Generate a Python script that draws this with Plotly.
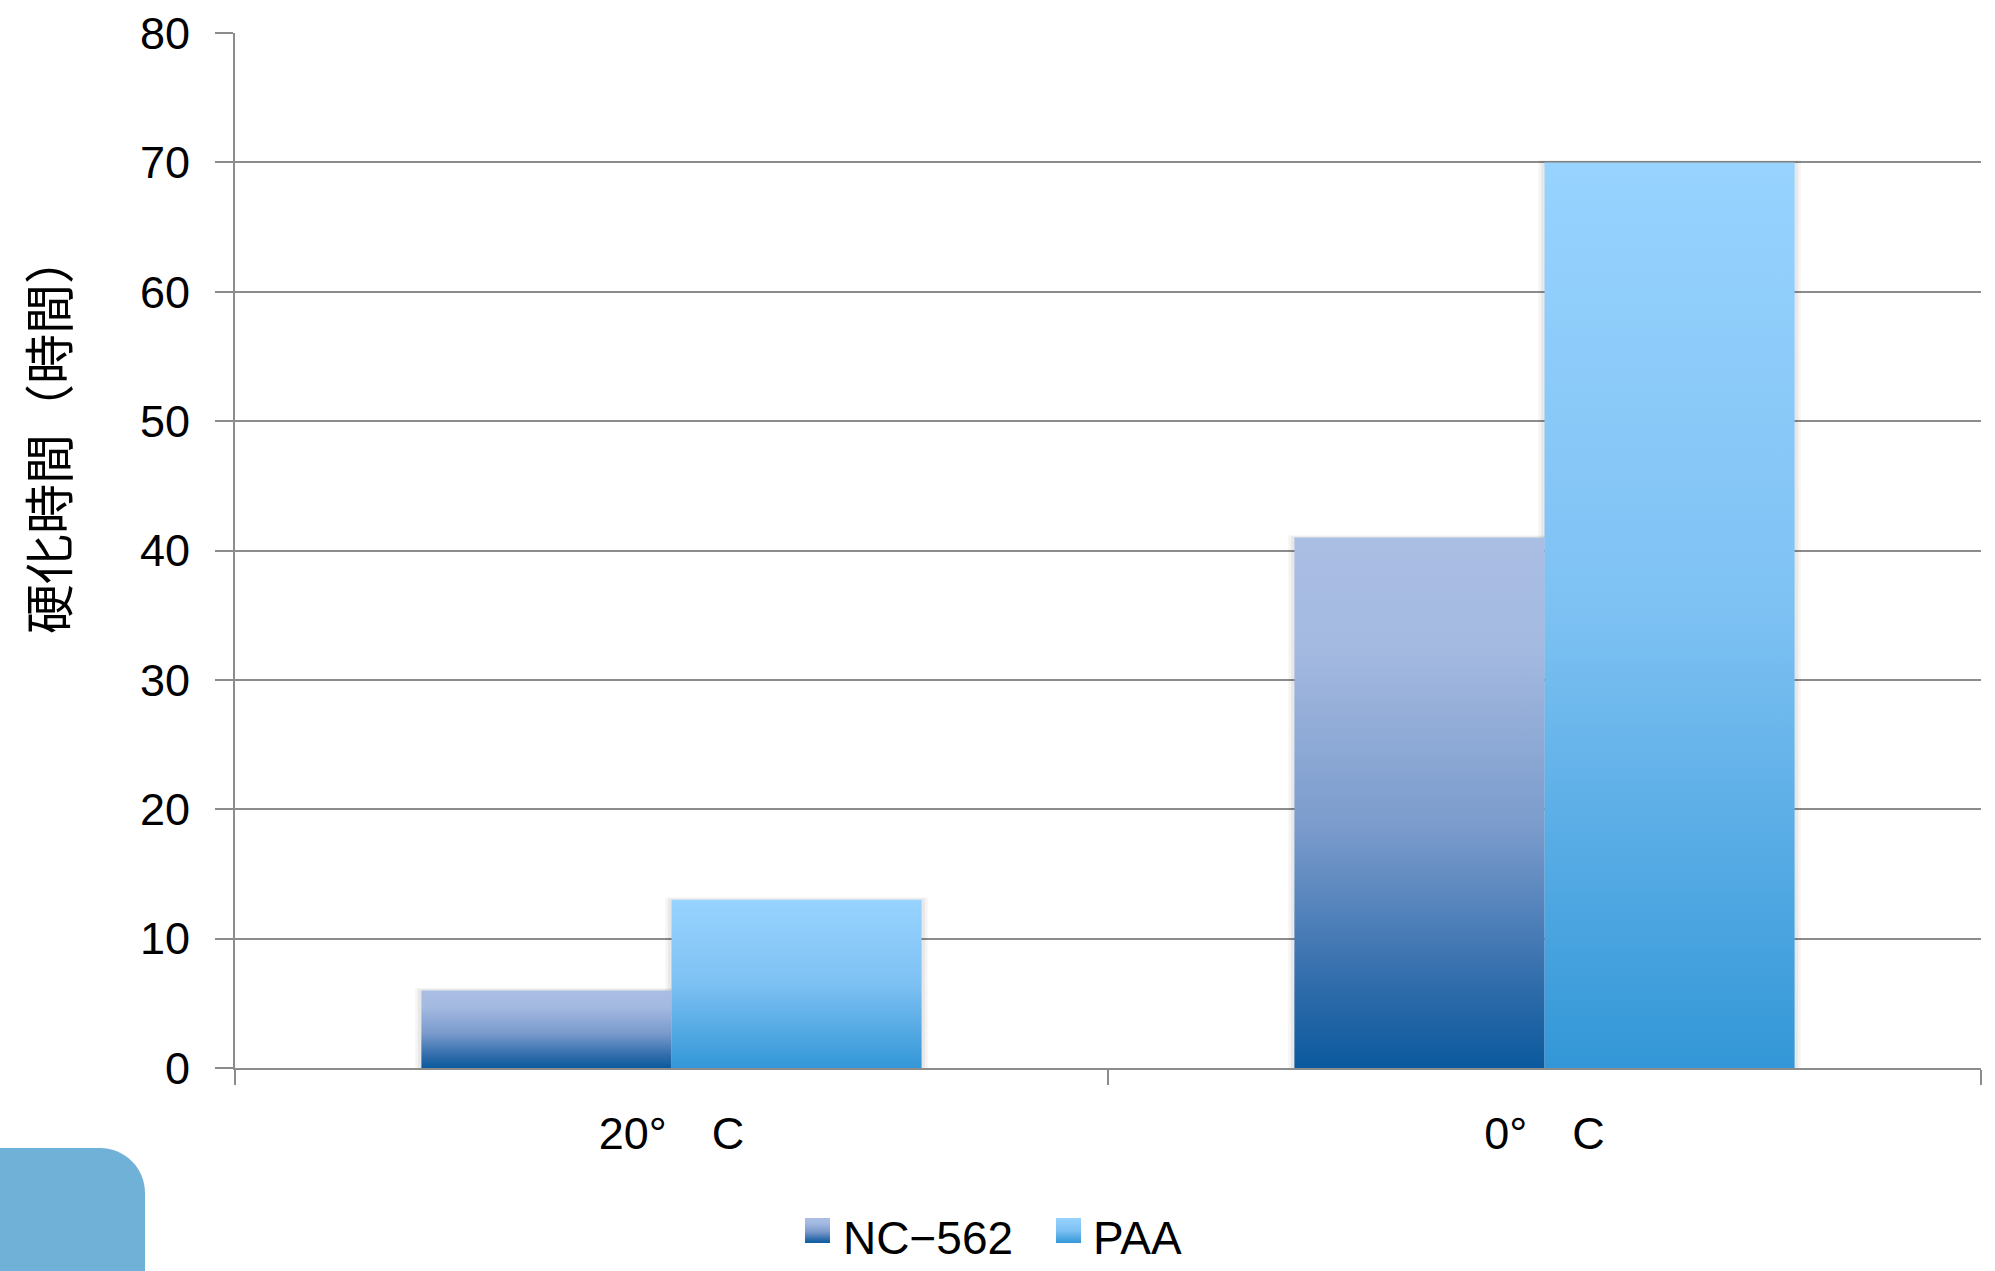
import plotly.graph_objects as go

# ---- data -------------------------------------------------------------
categories = ["20°\u3000C", "0°\u3000C"]
series_names = ["NC\u2212562", "PAA"]
nc562_hours = [6, 41]
paa_hours = [13, 70]
y_tick_values = [0, 10, 20, 30, 40, 50, 60, 70, 80]
y_axis_title = "硬化時間（時間）"

series_values = [nc562_hours, paa_hours]

# vertical gradients, bottom (0) -> top (1)
series_gradients = [
    [[0.0, "#0B5A9E"], [0.15, "#2E6BAA"], [0.45, "#7A9BCC"], [0.8, "#A5BAE1"], [1.0, "#AABEE4"]],
    [[0.0, "#3397D7"], [0.5, "#7DC1F3"], [1.0, "#98D3FF"]],
]

# ---- page geometry -----------------------------------------------------
W, H = 1995, 1271
L, R, T, B = 235, 14, 33, 0
PLOT_BOTTOM = 1068
paper_h = H - T - B
paper_w = W - L - R
main_domain_low = (H - B - PLOT_BOTTOM) / paper_h
LEGEND_DOMAIN = 0.1

AXIS_GRAY = "#8C8C8C"
FONT = "Liberation Sans, Noto Sans CJK JP, sans-serif"
CJK_FONT = "Noto Sans CJK JP, sans-serif"


def paper_x(px):
    return (px - L) / paper_w


def paper_y(py):
    return (H - B - py) / paper_h


BAR_GAP = 0.427
n_series = len(series_values)
bar_w = (1 - BAR_GAP) / n_series

fig = go.Figure()

# soft halo behind each bar
for s, vals in enumerate(series_values):
    for i, v in enumerate(vals):
        x0 = i - (n_series / 2 - s) * bar_w
        x1 = x0 + bar_w
        for pad, alpha in [(0.007, 0.04), (0.004, 0.05)]:
            fig.add_trace(go.Scatter(
                x=[x0 - pad, x0 - pad, x1 + pad, x1 + pad, x0 - pad],
                y=[0, v + pad * 25, v + pad * 25, 0, 0],
                mode="lines", line=dict(width=0),
                fill="toself", fillcolor=f"rgba(0,0,0,{alpha})",
                showlegend=False, hoverinfo="skip",
            ))

# gradient-filled bars
for s, (name, vals, grad) in enumerate(zip(series_names, series_values, series_gradients)):
    for i, v in enumerate(vals):
        x0 = i - (n_series / 2 - s) * bar_w
        x1 = x0 + bar_w
        fig.add_trace(go.Scatter(
            x=[x0, x0, x1, x1, x0],
            y=[0, v, v, 0, 0],
            mode="lines", line=dict(width=0),
            fill="toself",
            fillgradient=dict(type="vertical", colorscale=grad),
            name=name, showlegend=False,
            hovertemplate=f"{name}<br>{categories[i]}: {v}<extra></extra>",
        ))

# legend drawn on a pixel-unit helper subplot below the chart
legend_sq = 25
legend_sq_left = [805, 1056]
legend_text_left = [841, 1091]
legend_sq_top = 1218
legend_text_mid = 1238
annotations = []
for s, (name, grad) in enumerate(zip(series_names, series_gradients)):
    lx0 = legend_sq_left[s]
    lx1 = lx0 + legend_sq
    ly_top = H - legend_sq_top
    ly_bot = ly_top - legend_sq
    fig.add_trace(go.Scatter(
        x=[lx0, lx0, lx1, lx1, lx0],
        y=[ly_bot, ly_top, ly_top, ly_bot, ly_bot],
        xaxis="x2", yaxis="y2",
        mode="lines", line=dict(width=0),
        fill="toself",
        fillgradient=dict(type="vertical", colorscale=grad),
        showlegend=False, hoverinfo="skip",
    ))
    annotations.append(dict(
        x=legend_text_left[s], y=H - legend_text_mid, xref="x2", yref="y2",
        text=name, showarrow=False, xanchor="left", yanchor="middle",
        font=dict(family=FONT, size=46, color="black"),
    ))

# y-axis title
annotations.append(dict(
    x=paper_x(46), y=paper_y(434), xref="paper", yref="paper",
    text=y_axis_title, textangle=-90, showarrow=False,
    xanchor="center", yanchor="middle",
    font=dict(family=CJK_FONT, size=50, color="black"),
))

# decorative rounded tab in the lower-left corner
r = 45
k = 0.5523 * r
tab_left, tab_top, tab_right, tab_bottom = -5, 1148, 145, 1280
tab_path = (
    f"M{paper_x(tab_left)},{paper_y(tab_bottom)} "
    f"L{paper_x(tab_left)},{paper_y(tab_top)} "
    f"L{paper_x(tab_right - r)},{paper_y(tab_top)} "
    f"C{paper_x(tab_right - r + k)},{paper_y(tab_top)} "
    f"{paper_x(tab_right)},{paper_y(tab_top + r - k)} "
    f"{paper_x(tab_right)},{paper_y(tab_top + r)} "
    f"L{paper_x(tab_right)},{paper_y(tab_bottom)} Z"
)

fig.update_layout(
    width=W, height=H,
    margin=dict(l=L, r=R, t=T, b=B, autoexpand=False),
    paper_bgcolor="white", plot_bgcolor="white",
    showlegend=False,
    font=dict(family=FONT, size=45, color="black"),
    xaxis=dict(
        range=[-0.5, len(categories) - 0.5],
        tickmode="array", tickvals=list(range(len(categories))), ticktext=categories,
        ticks="", showgrid=False, zeroline=False,
        showline=True, linecolor=AXIS_GRAY, linewidth=2,
        minor=dict(
            tickmode="array",
            tickvals=[i - 0.5 for i in range(len(categories) + 1)],
            ticks="outside", ticklen=15, tickwidth=2, tickcolor=AXIS_GRAY,
            showgrid=False,
        ),
        tickfont=dict(family=FONT, size=45, color="black"),
        ticklabelstandoff=25,
        automargin=False, fixedrange=True,
    ),
    yaxis=dict(
        domain=[main_domain_low, 1],
        range=[0, 80],
        tickmode="array", tickvals=y_tick_values,
        ticks="outside", ticklen=18, tickwidth=2, tickcolor=AXIS_GRAY,
        showline=True, linecolor=AXIS_GRAY, linewidth=2,
        showgrid=True, gridcolor=AXIS_GRAY, gridwidth=2,
        zeroline=False,
        tickfont=dict(family=FONT, size=45, color="black"),
        ticklabelstandoff=16,
        automargin=False, fixedrange=True,
    ),
    xaxis2=dict(domain=[0, 1], range=[L, W - R], anchor="y2",
                visible=False, fixedrange=True),
    yaxis2=dict(domain=[0, LEGEND_DOMAIN], range=[0, LEGEND_DOMAIN * paper_h],
                anchor="x2", visible=False, fixedrange=True),
    annotations=annotations,
    shapes=[dict(type="path", path=tab_path, xref="paper", yref="paper",
                 fillcolor="#70B1D7", line=dict(width=0), layer="below")],
)

fig.write_html("out.html")
